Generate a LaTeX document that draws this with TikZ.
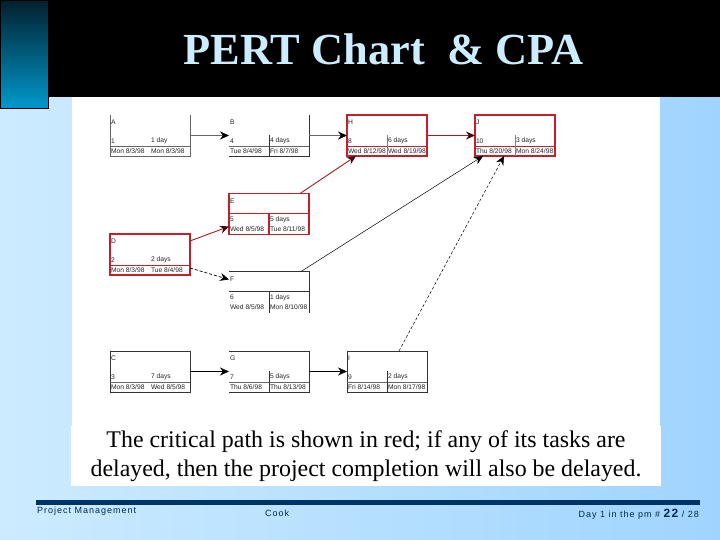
\documentclass[tikz,border=0pt]{standalone}
\usepackage{fontspec}
\setmainfont{Liberation Serif}
\setsansfont{Liberation Sans}
\usetikzlibrary{arrows.meta, positioning}
\definecolor{barblack}{HTML}{000000}
\definecolor{titleblue}{HTML}{CCECFF}
\definecolor{skyleft}{HTML}{CCEBFF}
\definecolor{skyright}{HTML}{A0D4FF}
\definecolor{tabtop}{HTML}{02202E}
\definecolor{tabbottom}{HTML}{0099CC}
\definecolor{pathred}{HTML}{C4202C}
\definecolor{footnavy}{HTML}{003366}
\newcommand{\pertbox}[8]{%
  \node (#2) [taskbox, #3] {};
  \node (#2letter) [cellt, anchor=west] at ([yshift=13pt]#2.west) {#4};
  \node (#2id) [cellt, anchor=west] at ([yshift=15pt]#2.south west) {#5};
  \node (#2dur) [cellt, anchor=west] at ([yshift=15pt]#2.south) {#6};
  \node (#2start) [cellt, anchor=west] at ([yshift=5pt]#2.south west) {#7};
  \node (#2finish) [cellt, anchor=west] at ([yshift=5pt]#2.south) {#8};
}
\begin{document}
\begin{tikzpicture}[x=1pt, y=-1pt, font=\sffamily,
    taskbox/.style={rectangle, minimum width=80pt, minimum height=41pt, inner sep=0pt, outer sep=0pt},
    cellt/.style={font=\sffamily\fontsize{6.7}{7}\selectfont, inner sep=0.8pt, text=black!85},
    critbox/.style={draw=pathred, line width=1.8pt},
    thinred/.style={draw=pathred, line width=0.5pt},
    plainline/.style={draw=black!80, line width=0.8pt},
    link/.style={-{Stealth[length=9pt, width=8pt, color=black]}, line width=0.7pt, black},
    critlink/.style={-{Stealth[length=9pt, width=8pt, color=black!70!pathred]}, line width=0.9pt, pathred!85!black},
    footer/.style={font=\sffamily\fontsize{9}{10}\addfontfeature{LetterSpace=11}\selectfont, text=footnavy!80!black, inner sep=0pt}]

    \useasboundingbox (0,0) rectangle (720,540);
    \node (sky) [anchor=north west, minimum width=720pt, minimum height=540pt, inner sep=0pt, left color=skyleft, right color=skyright] at (0,0) {};
    \node (sheet) [anchor=north west, minimum width=588pt, minimum height=388pt, inner sep=0pt, fill=white] at (72,97) {};
    \node (bar) [anchor=north west, minimum width=720pt, minimum height=97pt, inner sep=0pt, fill=barblack] at (0,0) {};
    \node (tab) [anchor=north west, minimum width=48pt, minimum height=108pt, inner sep=0pt, draw=black, line width=0.8pt, top color=tabtop, bottom color=tabbottom] at (0,0) {};
    \node (title) [font=\rmfamily\bfseries\fontsize{44.4}{48}\selectfont, text=titleblue, inner sep=0pt] at (383.5,49) {PERT Chart~ \& CPA};

    % task boxes
    \pertbox{A}{A}{at={(150,135.5)}}{A}{1}{1 day}{Mon 8/3/98}{Mon 8/3/98}
    \pertbox{B}{B}{right=39pt of A}{B}{4}{4 days}{Tue 8/4/98}{Fri 8/7/98}
    \pertbox{H}{H}{right=38pt of B}{H}{8}{6 days}{Wed 8/12/98}{Wed 8/19/98}
    \pertbox{J}{J}{right=48pt of H}{J}{10}{3 days}{Thu 8/20/98}{Mon 8/24/98}
    \pertbox{E}{E}{below=37.5pt of B}{E}{5}{5 days}{Wed 8/5/98}{Tue 8/11/98}
    \pertbox{D}{D}{below=78pt of A}{D}{2}{2 days}{Mon 8/3/98}{Tue 8/4/98}
    \pertbox{F}{F}{below=37pt of E}{F}{6}{1 days}{Wed 8/5/98}{Mon 8/10/98}
    \pertbox{G}{G}{below=38.5pt of F}{G}{7}{5 days}{Thu 8/6/98}{Thu 8/13/98}
    \pertbox{C}{C}{left=39pt of G}{C}{3}{7 days}{Mon 8/3/98}{Wed 8/5/98}
    \pertbox{I}{I}{right=38pt of G}{I}{9}{2 days}{Fri 8/14/98}{Mon 8/17/98}

    % outlines
    \draw [plainline, draw=black!60] (A.north west) -- (A.south west) -- (A.south east) -- (A.north east);
    \draw [plainline] (B.south west) -- (B.south east) -- (B.north east);
    \draw [plainline] (F.north west) -- (F.north east) -- (F.south east);
    \draw [plainline] (G.north west) -- (G.north east) -- (G.south east) -- (G.south west);
    \draw [plainline] (C.north west) rectangle (C.south east);
    \draw [plainline] (I.north west) rectangle (I.south east);
    \foreach \n in {H,J,E,D} \draw [critbox] (\n.north west) rectangle (\n.south east);

    % cell rules
    \foreach \n in {A,B,C,G,I} \draw [plainline, draw=black!60] ([yshift=10pt]\n.south west) -- ([yshift=10pt]\n.south east);
    \foreach \n in {H,J,D} \draw [thinred] ([yshift=10pt]\n.south west) -- ([yshift=10pt]\n.south east);
    \foreach \n in {B,G,I,F} \draw [plainline] ([yshift=21pt]\n.south) -- (\n.south);
    \foreach \n in {H,J} \draw [draw=black!50, line width=0.5pt] ([yshift=21pt]\n.south) -- (\n.south);
    \draw [plainline] ([yshift=21pt]F.south west) -- ([yshift=21pt]F.south east);
    \draw [critbox, line width=1.1pt] ([yshift=21pt]E.south west) -- ([yshift=21pt]E.south east);
    \draw [critbox, line width=1.1pt] ([yshift=21pt]E.south) -- (E.south);

    % connectors
    \draw [link, draw=black!60] (A.east) -- (B.west);
    \draw [link, draw=black!60] (B.east) -- (H.west);
    \draw [critlink] (H.east) -- (J.west);
    \draw [critlink] ([xshift=-9pt]E.north east) -- ([xshift=9pt]H.south west);
    \draw [critlink] ([yshift=-7pt]D.north east) -- ([yshift=8pt]E.south west);
    \draw [link, densely dashed] ([yshift=7pt]D.south east) -- ([yshift=-8pt]F.north west);
    \draw [link, line width=0.5pt] ([xshift=-8pt]F.north east) -- ([xshift=8pt]J.south west);
    \draw [link, densely dashed, line width=0.5pt] ([xshift=-28pt]I.north east) -- ([xshift=29pt]J.south west);
    \draw [link] (C.east) -- (G.west);
    \draw [link] (G.east) -- (I.west);

    % caption and footer
    \node (note) [anchor=north, minimum width=590pt, minimum height=60pt, fill=white, align=center, inner sep=0pt, font=\rmfamily\fontsize{23.9}{29}\selectfont] at (366,426) {The critical path is shown in red; if any of its tasks are\\delayed, then the project completion will also be delayed.};
    \node (rule) [anchor=north west, minimum width=664pt, minimum height=5pt, inner sep=0pt, fill=footnavy] at (36,500) {};
    \node (proj) [footer, anchor=west] at (37,511) {Project Management};
    \node (cook) [footer, anchor=west] at (265,513.5) {Cook};
    \node (day) [footer, anchor=east] at (699,514.5) {Day 1 in the pm \# {\fontsize{12}{12}\selectfont\bfseries 22} / 28};
\end{tikzpicture}
\end{document}
